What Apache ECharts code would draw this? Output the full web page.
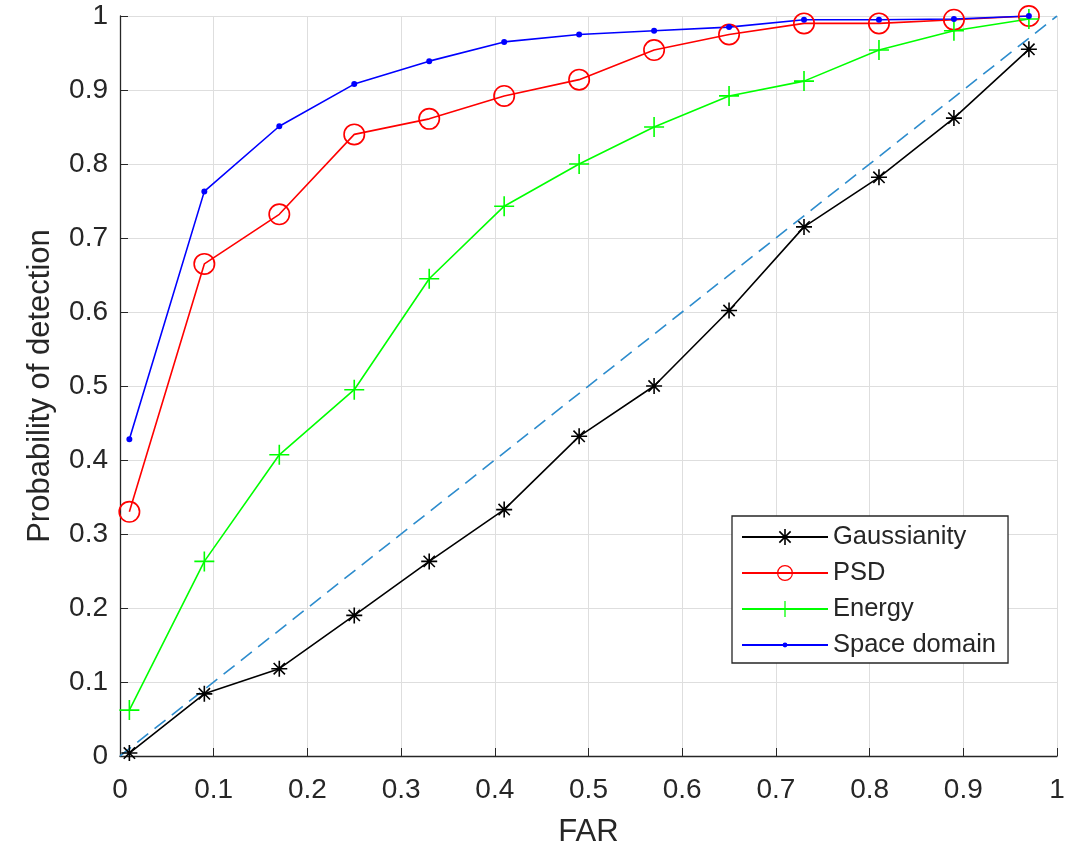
<!DOCTYPE html>
<html>
<head>
<meta charset="utf-8">
<script src="https://cdn.jsdelivr.net/npm/echarts@6/dist/echarts.min.js"></script>
<style>
  html, body { margin: 0; padding: 0; background: #fff; }
  #roc { width: 1074px; height: 844px; }
</style>
</head>
<body>
<div id="roc"></div>
<script>
// FAR values (x) shared by every curve
var farValues = [0.01, 0.09, 0.17, 0.25, 0.33, 0.41, 0.49, 0.57, 0.65, 0.73, 0.81, 0.89, 0.97];
// probability of detection
var gaussianity = [0.004, 0.084, 0.118, 0.19, 0.263, 0.333, 0.432, 0.5, 0.602, 0.715, 0.782, 0.862, 0.955];
var psd = [0.33, 0.665, 0.732, 0.84, 0.861, 0.892, 0.914, 0.954, 0.975, 0.99, 0.99, 0.995, 1.0];
var energy = [0.062, 0.263, 0.407, 0.495, 0.645, 0.743, 0.8, 0.85, 0.892, 0.912, 0.954, 0.98, 0.996];
var spaceDomain = [0.428, 0.763, 0.851, 0.908, 0.939, 0.965, 0.975, 0.98, 0.985, 0.995, 0.995, 0.996, 1.0];
// chance line
var chanceX = [0, 1];
var chanceY = [0, 1];
var tickValues = ['0', '0.1', '0.2', '0.3', '0.4', '0.5', '0.6', '0.7', '0.8', '0.9', '1'];

// matlab-like markers
var starPath = 'path://M-1,-10L1,-10L1,10L-1,10Z M-10,-1L10,-1L10,1L-10,1Z ' +
  'M-6.36,-7.78L7.78,6.36L6.36,7.78L-7.78,-6.36Z M6.36,-7.78L7.78,-6.36L-6.36,7.78L-7.78,6.36Z';
var ringPath = 'path://M0,-10A10,10 0 1,1 0,10A10,10 0 1,1 0,-10Z M0,-8.5A8.5,8.5 0 1,0 0,8.5A8.5,8.5 0 1,0 0,-8.5Z';
var plusPath = 'path://M-0.8,-10L0.8,-10L0.8,10L-0.8,10Z M-10,-0.8L10,-0.8L10,0.8L-10,0.8Z';
var dotPath = 'path://M-10,-10L-10,-10Z M10,10L10,10Z M0,-3A3,3 0 1,1 0,3A3,3 0 1,1 0,-3Z';

function zip(xs, ys) {
  var out = [];
  for (var i = 0; i < xs.length; i++) {
    out.push([xs[i], ys[i]]);
  }
  return out;
}

function curve(name, ys, color, symbol, size) {
  return {
    name: name,
    type: 'line',
    data: zip(farValues, ys),
    symbol: symbol,
    symbolSize: size,
    showAllSymbol: true,
    z: 3,
    lineStyle: { color: color, width: 1.6 },
    itemStyle: { color: color, borderWidth: 0 },
    emphasis: { disabled: true },
    animation: false
  };
}

var chart = echarts.init(document.getElementById('roc'));

var fontName = 'Liberation Sans, Arial, sans-serif';

var option = {
  backgroundColor: '#fff',
  animation: false,
  grid: { left: 120, right: 17, top: 16, bottom: 88, containLabel: false, outerBoundsMode: 'none' },
  xAxis: {
    type: 'value',
    min: 0,
    max: 1,
    interval: 0.1,
    name: 'FAR',
    nameLocation: 'middle',
    nameGap: 61,
    nameTextStyle: { fontFamily: fontName, fontSize: 31, color: '#262626' },
    axisLine: { onZero: false, lineStyle: { color: '#262626', width: 1.3 } },
    axisTick: { inside: true, length: 8, lineStyle: { color: '#262626' } },
    axisLabel: {
      margin: 20,
      fontFamily: fontName, fontSize: 28, color: '#262626',
      formatter: function (v) { return tickValues[Math.round(v * 10)]; }
    },
    splitLine: { show: true, lineStyle: { color: '#dedede', width: 1 } }
  },
  yAxis: {
    type: 'value',
    min: 0,
    max: 1,
    interval: 0.1,
    name: 'Probability of detection',
    nameLocation: 'middle',
    nameGap: 64,
    nameTextStyle: { fontFamily: fontName, fontSize: 31, color: '#262626' },
    axisLine: { show: true, onZero: false, lineStyle: { color: '#262626', width: 1.3 } },
    axisTick: { show: true, inside: true, length: 8, lineStyle: { color: '#262626' } },
    axisLabel: {
      margin: 12,
      fontFamily: fontName, fontSize: 28, color: '#262626',
      formatter: function (v) { return tickValues[Math.round(v * 10)]; }
    },
    splitLine: { show: true, lineStyle: { color: '#dedede', width: 1 } }
  },
  legend: {
    data: ['Gaussianity', 'PSD', 'Energy', 'Space domain'],
    orient: 'vertical',
    left: 732,
    top: 516,
    padding: [8, 12, 5, 9],
    itemWidth: 86,
    itemHeight: 20,
    itemGap: 10,
    backgroundColor: '#fff',
    borderColor: '#262626',
    borderWidth: 1.3,
    borderRadius: 0,
    selectedMode: false,
    textStyle: { fontFamily: fontName, fontSize: 25.5, color: '#262626' }
  },
  series: [
    {
      name: 'chance',
      type: 'line',
      data: zip(chanceX, chanceY),
      symbol: 'none',
      z: 2,
      lineStyle: { color: '#2d8ccd', width: 1.6, type: [14, 8] },
      emphasis: { disabled: true },
      animation: false
    },
    curve('Gaussianity', gaussianity, '#000000', starPath, 16),
    curve('PSD', psd, '#ff0000', ringPath, 22),
    curve('Energy', energy, '#00ff00', plusPath, 20),
    curve('Space domain', spaceDomain, '#0000ff', dotPath, 20)
  ]
};

chart.setOption(option);
</script>
</body>
</html>
